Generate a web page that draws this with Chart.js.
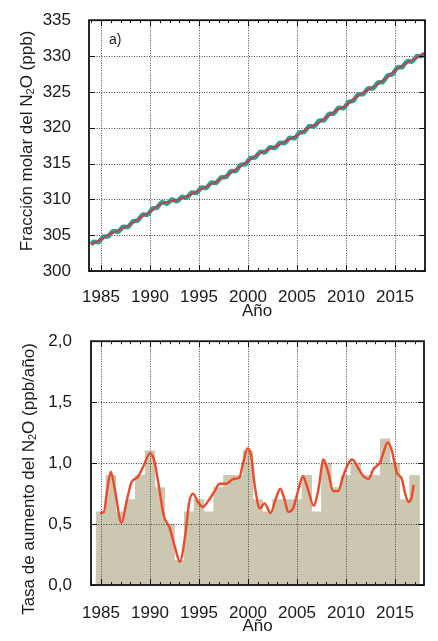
<!DOCTYPE html>
<html>
<head>
<meta charset="utf-8">
<script src="https://cdn.jsdelivr.net/npm/chart.js"></script>
<style>
  body { margin: 0; background: #fff; }
  canvas { position: absolute; left: 0; display: block; }
  #chartA { top: 0; }
  #chartB { top: 320px; }
</style>
</head>
<body>
<canvas id="chartA" width="438" height="320"></canvas>
<canvas id="chartB" width="438" height="321"></canvas>
<script>
// ---- panel a) : N2O mole fraction (ppb)
const trendYears = [1984, 1985, 1986, 1987, 1988, 1989, 1990, 1991, 1992, 1993, 1994, 1995,
  1996, 1997, 1998, 1999, 2000, 2001, 2002, 2003, 2004, 2005, 2006, 2007, 2008, 2009,
  2010, 2011, 2012, 2013, 2014, 2015, 2016, 2017, 2018];
const trendValues = [303.70, 304.40, 305.24, 305.80, 306.50, 307.46, 308.25, 309.30, 309.70,
  310.00, 310.57, 311.27, 311.96, 312.66, 313.50, 314.37, 315.35, 316.27, 316.92, 317.52,
  318.22, 318.90, 319.84, 320.54, 321.46, 322.40, 323.10, 324.25, 325.08, 325.87, 326.80,
  327.95, 328.90, 329.60, 330.40];
// monthly-ish series, one value per quarter starting 1984.0
const monthlyStart = 1984;
const monthlyValues = [
  303.70, 304.08, 304.05, 304.03,  304.40, 304.81, 304.82, 304.83,
  305.24, 305.58, 305.52, 305.46,  305.80, 306.18, 306.15, 306.13,
  306.50, 306.94, 306.98, 307.02,  307.46, 307.86, 307.86, 307.85,
  308.25, 308.71, 308.78, 308.84,  309.30, 309.60, 309.50, 309.40,
  309.70, 309.98, 309.85, 309.73,  310.00, 310.34, 310.29, 310.23,
  310.57, 310.95, 310.92, 310.90,  311.27, 311.64, 311.62, 311.59,
  311.96, 312.34, 312.31, 312.29,  312.66, 313.07, 313.08, 313.09,
  313.50, 313.92, 313.94, 313.95,  314.37, 314.82, 314.86, 314.91,
  315.35, 315.78, 315.81, 315.84,  316.27, 316.63, 316.60, 316.56,
  316.92, 317.27, 317.22, 317.17,  317.52, 317.90, 317.87, 317.85,
  318.22, 318.59, 318.56, 318.53,  318.90, 319.34, 319.37, 319.41,
  319.84, 320.22, 320.19, 320.17,  320.54, 320.97, 321.00, 321.03,
  321.46, 321.90, 321.93, 321.97,  322.40, 322.78, 322.75, 322.73,
  323.10, 323.59, 323.68, 323.76,  324.25, 324.66, 324.67, 324.67,
  325.08, 325.48, 325.48, 325.47,  325.87, 326.30, 326.34, 326.37,
  326.80, 327.29, 327.38, 327.46,  327.95, 328.39, 328.43, 328.46,
  328.90, 329.28, 329.25, 329.23,  329.60, 330.00, 330.00, 330.00,
  330.40];
const yTicksA = [300, 305, 310, 315, 320, 325, 330, 335];

// ---- panel b) : growth rate (ppb/año)
const barYears = [1985, 1986, 1987, 1988, 1989, 1990, 1991, 1992, 1993, 1994, 1995, 1996,
  1997, 1998, 1999, 2000, 2001, 2002, 2003, 2004, 2005, 2006, 2007, 2008, 2009, 2010,
  2011, 2012, 2013, 2014, 2015, 2016, 2017];
const barValues = [0.6, 0.9, 0.6, 0.7, 0.9, 1.1, 0.8, 0.5, 0.2, 0.6, 0.7, 0.6,
  0.8, 0.9, 0.9, 1.1, 0.7, 0.6, 0.7, 0.7, 0.7, 0.9, 0.6, 1.0, 0.8, 0.9,
  1.0, 0.9, 0.9, 1.2, 1.0, 0.7, 0.9];
const rateYears = [1984.9, 1985.3, 1985.6, 1986.0, 1986.4, 1987.1, 1987.6, 1988.1, 1988.8,
  1989.3, 1990.0, 1990.4, 1990.85, 1991.4, 1992.0, 1992.55, 1993.05, 1993.6, 1994.0, 1994.4,
  1994.9, 1995.4, 1995.95, 1996.6, 1997.1, 1997.8, 1998.5, 1999.1, 1999.5, 1999.95, 2000.3,
  2000.7, 2001.2, 2001.7, 2002.3, 2002.85, 2003.3, 2003.7, 2004.1, 2004.6, 2005.1, 2005.6,
  2006.1, 2006.7, 2007.2, 2007.7, 2008.2, 2008.7, 2009.2, 2009.7, 2010.2, 2010.65, 2011.3,
  2011.8, 2012.3, 2012.8, 2013.5, 2013.8, 2014.25, 2014.65, 2015.2, 2015.7, 2016.0, 2016.4,
  2016.7, 2016.9];
const rateValues = [0.59, 0.60, 0.76, 0.93, 0.79, 0.51, 0.68, 0.84, 0.89,
  0.97, 1.08, 1.03, 0.84, 0.57, 0.47, 0.31, 0.19, 0.41, 0.68, 0.75,
  0.68, 0.64, 0.69, 0.77, 0.83, 0.83, 0.87, 0.88, 1.00, 1.12, 1.07,
  0.81, 0.63, 0.67, 0.59, 0.71, 0.79, 0.71, 0.60, 0.63, 0.77, 0.89,
  0.79, 0.65, 0.79, 1.03, 0.92, 0.77, 0.77, 0.89, 0.99, 1.03, 0.95,
  0.89, 0.87, 0.95, 1.01, 1.08, 1.17, 1.11, 0.92, 0.87, 0.76, 0.68,
  0.72, 0.82];
const yTicksB = [0, 0.5, 1.0, 1.5, 2.0];

const xTicks = [1985, 1990, 1995, 2000, 2005, 2010, 2015];

const FONT = '"Liberation Sans", Arial, sans-serif';
const TEXT = '#1a1a1a';

// grid, frame, inner ticks, panel letter and y title with subscript
const framePlugin = {
  id: 'frame',
  beforeDatasetsDraw(chart, args, opts) {
    if (!opts.gridOnTop) drawGrid(chart);
  },
  afterDatasetDraw(chart, args, opts) {
    if (opts.gridOnTop && args.index === 1) drawGrid(chart);
  },
  afterDraw(chart, args, opts) {
    const ctx = chart.ctx;
    const a = chart.chartArea;
    const xs = chart.scales.x, ys = chart.scales.y;
    ctx.save();
    ctx.strokeStyle = '#111';
    ctx.lineWidth = 1;
    ctx.beginPath();
    for (let yr = Math.ceil(xs.min); yr <= xs.max; yr++) {
      const px = Math.round(xs.getPixelForValue(yr)) + 0.5;
      const len = yr % 5 === 0 ? 6 : 3;
      ctx.moveTo(px, a.bottom); ctx.lineTo(px, a.bottom - len);
      ctx.moveTo(px, a.top); ctx.lineTo(px, a.top + len);
    }
    ys.ticks.forEach(t => {
      const py = Math.round(ys.getPixelForValue(t.value)) + 0.5;
      ctx.moveTo(a.left, py); ctx.lineTo(a.left + 6, py);
      ctx.moveTo(a.right, py); ctx.lineTo(a.right - 6, py);
    });
    ctx.stroke();
    ctx.lineWidth = 1.8;
    ctx.strokeRect(a.left, a.top, a.right - a.left, a.bottom - a.top);

    // panel letter
    ctx.fillStyle = TEXT;
    ctx.font = '14px ' + FONT;
    ctx.textBaseline = 'alphabetic';
    ctx.textAlign = 'left';
    ctx.fillText(opts.letter, opts.letterX, opts.letterY);

    // rotated y title with subscript 2
    const big = '17px ' + FONT, small = '11px ' + FONT;
    const parts = [[opts.titleBefore, big, 0], ['2', small, 4], [opts.titleAfter, big, 0]];
    ctx.translate(opts.titleX, opts.titleY);
    ctx.rotate(-Math.PI / 2);
    let total = 0;
    parts.forEach(p => { ctx.font = p[1]; total += ctx.measureText(p[0]).width; });
    let x = -total / 2;
    ctx.textBaseline = 'middle';
    parts.forEach(p => {
      ctx.font = p[1];
      ctx.fillText(p[0], x, p[2]);
      x += ctx.measureText(p[0]).width;
    });
    ctx.restore();
  }
};

function drawGrid(chart) {
  const ctx = chart.ctx;
  const a = chart.chartArea;
  const xs = chart.scales.x, ys = chart.scales.y;
  ctx.save();
  ctx.strokeStyle = '#444';
  ctx.lineWidth = 1;
  ctx.setLineDash([1, 1.5]);
  ctx.beginPath();
  xTicks.forEach(v => {
    const px = Math.round(xs.getPixelForValue(v)) + 0.5;
    ctx.moveTo(px, a.top); ctx.lineTo(px, a.bottom);
  });
  ys.ticks.forEach(t => {
    const py = Math.round(ys.getPixelForValue(t.value)) + 0.5;
    ctx.moveTo(a.left, py); ctx.lineTo(a.right, py);
  });
  ctx.stroke();
  ctx.restore();
}

function xScale(min, max, tickPad, titlePadBottom, height) {
  return {
    type: 'linear', min: min, max: max, offset: false,
    grid: { display: false, offset: false }, border: { display: false },
    afterBuildTicks: s => { s.ticks = xTicks.map(v => ({ value: v })); },
    afterFit: s => { s.height = height; },
    ticks: { color: TEXT, padding: tickPad, maxRotation: 0, autoSkip: false,
      font: { family: FONT, size: 17 }, callback: v => String(v) },
    title: { display: true, text: 'Año', color: TEXT,
      font: { family: FONT, size: 17, lineHeight: 1 }, padding: { top: 0, bottom: titlePadBottom } }
  };
}

// panel a
new Chart(document.getElementById('chartA'), {
  type: 'line',
  data: {
    datasets: [{
      label: 'tendencia',
      data: trendYears.map((y, i) => ({ x: y, y: trendValues[i] })),
      borderColor: '#e0303a', borderWidth: 1.6, pointRadius: 0, tension: 0.3
    }, {
      label: 'media mensual',
      data: monthlyValues.map((v, i) => ({ x: monthlyStart + i / 4, y: v })),
      borderColor: '#2a9f96', borderWidth: 4.5, pointRadius: 0, tension: 0.3
    }]
  },
  options: {
    responsive: false, animation: false,
    layout: { padding: { left: 0, right: 13, top: 19, bottom: 0 } },
    plugins: {
      legend: { display: false }, tooltip: { enabled: false },
      frame: { gridOnTop: false, letter: 'a)', letterX: 109, letterY: 44,
        titleBefore: 'Fracción molar del N', titleAfter: 'O (ppb)', titleX: 27, titleY: 141 }
    },
    scales: {
      x: xScale(1983.78, 2018.06, 8, 0, 49),
      y: {
        min: 300, max: 335,
        grid: { display: false }, border: { display: false },
        afterBuildTicks: s => { s.ticks = yTicksA.map(v => ({ value: v })); },
        afterFit: s => { s.width = 89; },
        ticks: { color: TEXT, padding: 10, font: { family: FONT, size: 17 } }
      }
    }
  },
  plugins: [framePlugin]
});

// panel b
new Chart(document.getElementById('chartB'), {
  type: 'bar',
  data: {
    datasets: [{
      type: 'line',
      label: 'tasa suavizada',
      data: rateYears.map((y, i) => ({ x: y, y: rateValues[i] })),
      borderColor: '#ee4a2a', borderWidth: 2.4, pointRadius: 0,
      cubicInterpolationMode: 'monotone'
    }, {
      type: 'bar',
      label: 'tasa anual',
      data: barYears.map((y, i) => ({ x: y, y: barValues[i] })),
      backgroundColor: '#cbc7b0', borderWidth: 0,
      barPercentage: 1, categoryPercentage: 1
    }]
  },
  options: {
    responsive: false, animation: false,
    layout: { padding: { left: 0, right: 14, top: 15, bottom: 0 } },
    plugins: {
      legend: { display: false }, tooltip: { enabled: false },
      frame: { gridOnTop: true, letter: 'b)', letterX: 111, letterY: 362,
        titleBefore: 'Tasa de aumento del N', titleAfter: 'O (ppb/año)', titleX: 29, titleY: 159 }
    },
    scales: {
      x: xScale(1983.98, 2017.96, 10, 6, 56),
      y: {
        min: 0, max: 2,
        grid: { display: false }, border: { display: false },
        afterBuildTicks: s => { s.ticks = yTicksB.map(v => ({ value: v })); },
        afterFit: s => { s.width = 91; },
        ticks: { color: TEXT, padding: 11, font: { family: FONT, size: 17 },
          callback: v => v.toFixed(1).replace('.', ',') }
      }
    }
  },
  plugins: [framePlugin]
});
</script>
</body>
</html>
